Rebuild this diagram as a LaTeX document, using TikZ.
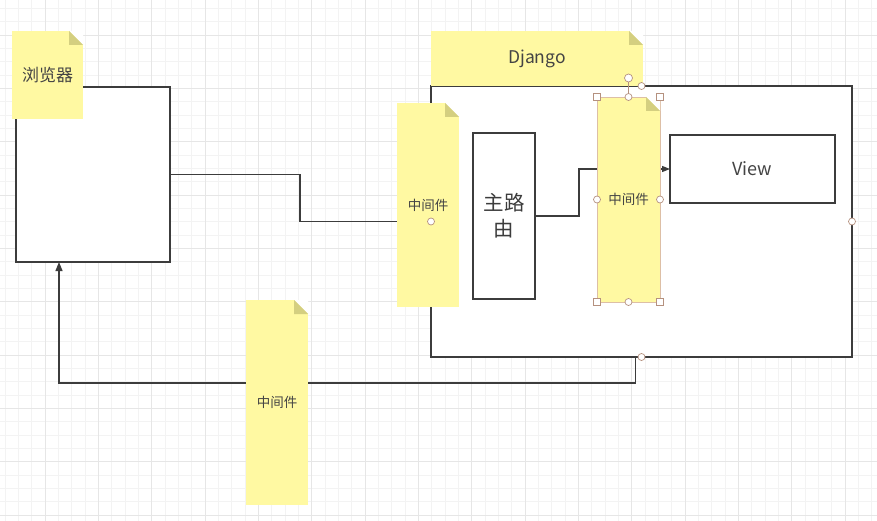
\documentclass[tikz,border=0pt]{standalone}
\usepackage{fontspec}
\setmainfont{Noto Sans CJK SC}
\usetikzlibrary{arrows.meta}
\definecolor{ink}{HTML}{3C3C3C}
\definecolor{txt}{HTML}{444444}
\definecolor{notefill}{HTML}{FFF9A2}
\definecolor{foldc}{HTML}{D4CF80}
\definecolor{gminc}{HTML}{F3F3F3}
\definecolor{gmajc}{HTML}{E6E6E6}
\definecolor{hdlc}{HTML}{B5917F}
\definecolor{selc}{HTML}{DDBFA6}
\tikzset{
  wh/.style 2 args={minimum width=#1pt, minimum height=#2pt},
  box/.style={draw=ink, line width=1.2pt, fill=white, inner sep=0pt, outer sep=0pt,
              align=center, text=txt},
  note/.style={fill=notefill, inner sep=0pt, outer sep=0pt, align=center, text=txt,
               font=\fontsize{13.5}{15}\selectfont},
  flow/.style={draw=ink, line width=1.2pt, -{Triangle[length=9pt,width=7pt]}},
  gminor/.style={draw=gminc, line width=0.8pt},
  gmajor/.style={draw=gmajc, line width=0.8pt},
  cpt/.style={circle, draw=hdlc, fill=white, line width=0.7pt, inner sep=0pt, minimum size=7pt},
  hsq/.style={rectangle, draw=hdlc, fill=white, line width=0.7pt, inner sep=0pt, minimum size=7pt},
}
% dog-ear on the top right corner of a note
\newcommand{\notefold}[1]{%
  \fill[white] (#1.north east) -- ++(-14,0) -- ++(14,14) -- cycle;
  \fill[foldc] (#1.north east) ++(-14,0) -- ++(0,14) -- ++(14,0) -- cycle;}

\begin{document}
\begin{tikzpicture}[x=1pt, y=-1pt]
\fill[white] (0,0) rectangle (877,521);
\useasboundingbox (0,0) rectangle (877,521);
% ---- grid ----
\foreach \i in {0,...,65}{ \draw[gminor] ({5+\i*40/3},0) -- ++(0,521); }
\foreach \i in {0,...,38}{ \draw[gminor] (0,{8.333+\i*40/3}) -- ++(877,0); }
\foreach \i in {0,...,15}{ \draw[gmajor] ({45+\i*160/3},0) -- ++(0,521); }
\foreach \i in {0,...,9}{ \draw[gmajor] (0,{35+\i*160/3}) -- ++(877,0); }
% ---- boxes ----
\node[box, wh={421}{271}] (django)  at (641.5,221.5) {};
\node[box, wh={154}{175}] (browser) at (93,174.5) {};
% ---- connectors ----
\draw[flow] (browser.east) -- ++(130,0) |- (django.west);
\draw[flow] ([xshift=-6pt]django.south) -- ++(0,26) -| ([xshift=-34pt]browser.south);
\node[box, wh={62}{166}, font=\fontsize{20.5}{26}\selectfont, text=ink] (router) at (504,216) {主路\\由};
\node[box, wh={165}{68}, font=\fontsize{18}{20}\selectfont] (view) at (752.5,169) {View};
\draw[flow, -{Triangle[length=8pt,width=6pt]}] (router.east) -- ++(44,0) |- (view.west);
% ---- notes ----
\node[note, wh={71}{88}, font=\fontsize{17}{19}\selectfont] (nbrowser) at (47.5,75) {浏览器};
\notefold{nbrowser}
\node[note, wh={212}{55}, font=\fontsize{17.5}{19}\selectfont] (ndjango) at (537,58.5) {Django};
\notefold{ndjango}
\node[note, wh={62}{204}] (mw1) at (428,205) {中间件};
\notefold{mw1}
\node[note, wh={63}{205}, draw=selc, line width=0.6pt] (mw2) at (628.5,199.5) {中间件};
\notefold{mw2}
\node[note, wh={62}{205}] (mw3) at (277,402.5) {中间件};
\notefold{mw3}
% ---- handles ----
\foreach \a in {north,east,south,west}{ \node[cpt] at (django.\a) {}; }
\draw[hdlc, line width=0.7pt] (mw2.north) -- ++(0,-15);
\node[cpt, minimum size=8pt] (rot) at ([yshift=19pt]mw2.north) {};
\foreach \a in {north west,north east,south west,south east}{ \node[hsq] at (mw2.\a) {}; }
\foreach \a in {north,east,south,west}{ \node[cpt] at (mw2.\a) {}; }
\end{tikzpicture}
\end{document}
